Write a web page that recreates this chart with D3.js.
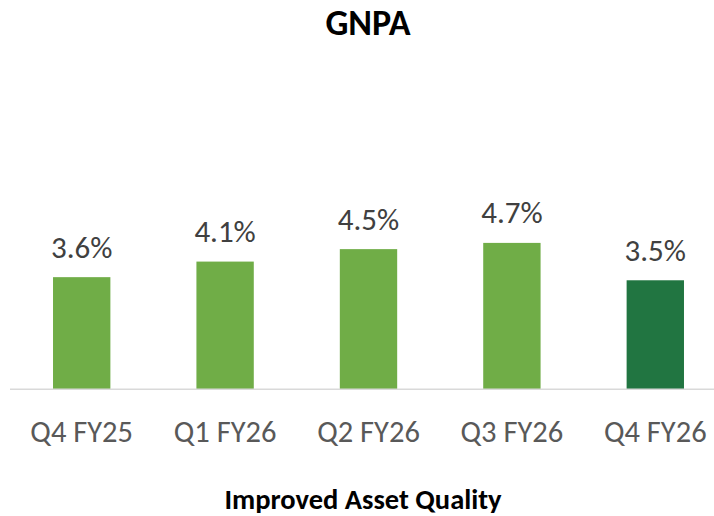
<!DOCTYPE html>
<html>
<head>
<meta charset="utf-8">
<script src="https://cdn.jsdelivr.net/npm/d3@7"></script>
<style>
  html, body { margin: 0; padding: 0; background: #fff; }
  svg { display: block; font-family: Carlito, Calibri, Lato, sans-serif; }
</style>
</head>
<body>
<svg id="chart" width="714" height="516"></svg>
<script>
// GNPA by quarter (%)
const quarters = ["Q4 FY25", "Q1 FY26", "Q2 FY26", "Q3 FY26", "Q4 FY26"];
const gnpa = [3.6, 4.1, 4.5, 4.7, 3.5];
const barColors = ["#70AD47", "#70AD47", "#70AD47", "#70AD47", "#217541"];

const chartTitle = "GNPA";
const footerTitle = "Improved Asset Quality";

const svg = d3.select("#chart");
const baseY = 389.3;

const x = d3.scaleBand()
  .domain(quarters)
  .range([10, 727])
  .paddingInner(0.6)
  .paddingOuter(0.3);

const y = d3.scaleLinear()
  .domain([0, 5])
  .range([baseY, baseY - 5 * 31.15]);

// Title
svg.append("text")
  .attr("x", 368).attr("y", 35)
  .attr("text-anchor", "middle")
  .style("font-weight", "700")
  .style("font-size", "36px")
  .style("fill", "#000")
  .text(chartTitle);

// Bars
svg.append("g").selectAll("rect")
  .data(gnpa)
  .join("rect")
  .attr("x", (d, i) => x(quarters[i]))
  .attr("width", x.bandwidth())
  .attr("y", d => y(d))
  .attr("height", d => y(0) - y(d))
  .attr("fill", (d, i) => barColors[i]);

// Value labels
svg.append("g").selectAll("text")
  .data(gnpa)
  .join("text")
  .attr("x", (d, i) => x(quarters[i]) + x.bandwidth() / 2)
  .attr("y", d => y(d) - 19.5)
  .attr("text-anchor", "middle")
  .style("font-size", "31px")
  .style("fill", "#404040")
  .text(d => d.toFixed(1) + "%");

// Category axis
const axis = svg.append("g")
  .attr("transform", `translate(0,${baseY})`)
  .call(d3.axisBottom(x).tickSize(0).tickPadding(0));
axis.select(".domain").remove();
axis.append("line")
  .attr("x1", 10).attr("x2", 727)
  .attr("y1", 0).attr("y2", 0)
  .attr("stroke", "#D9D9D9")
  .attr("stroke-width", 1.5);
axis.selectAll(".tick text")
  .attr("dy", null)
  .attr("y", 52.4)
  .style("font-family", "Carlito, Calibri, Lato, sans-serif")
  .style("font-size", "30.5px")
  .style("fill", "#595959");

// Footer caption
svg.append("text")
  .attr("x", 363).attr("y", 509)
  .attr("text-anchor", "middle")
  .style("font-weight", "700")
  .style("font-size", "28.5px")
  .style("fill", "#000")
  .text(footerTitle);
</script>
</body>
</html>
